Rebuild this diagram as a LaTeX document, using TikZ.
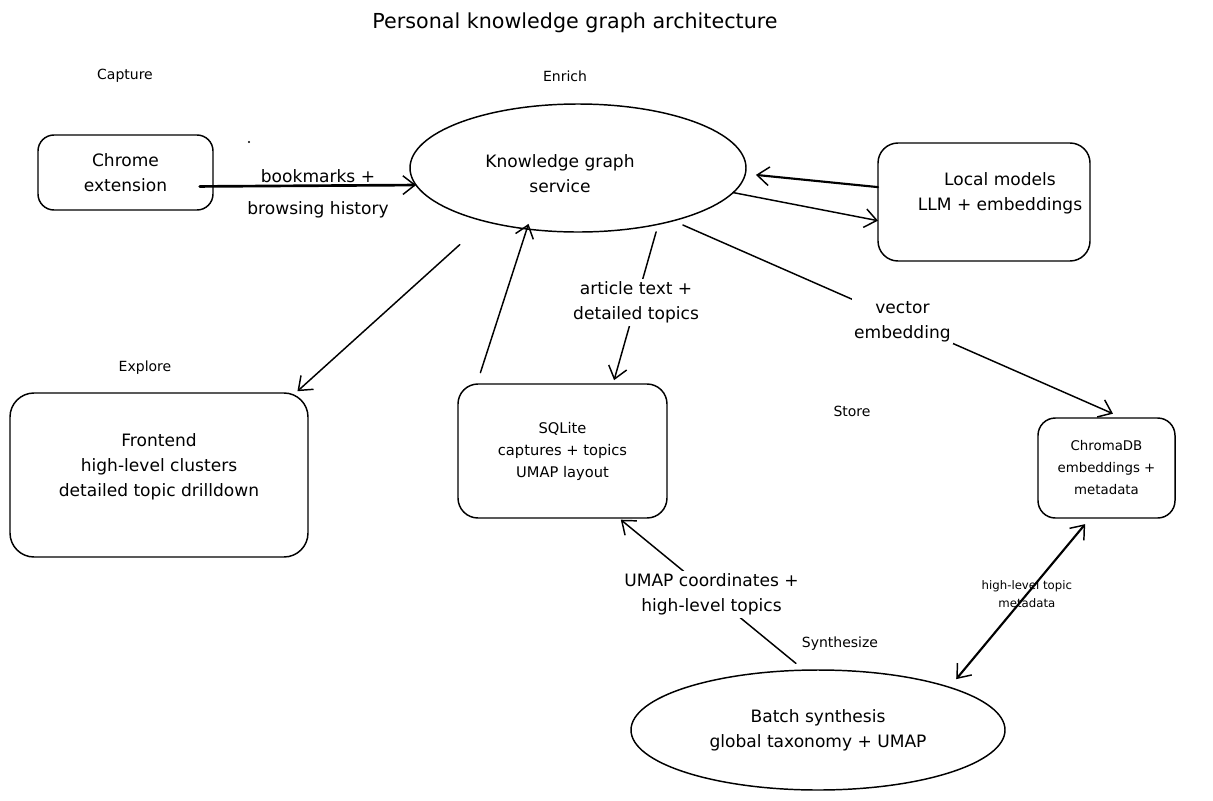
\documentclass[tikz,border=0pt]{standalone}
\usepackage{fontspec}
\setmainfont{DejaVu Sans}
\usetikzlibrary{arrows.meta,shapes.geometric}
\newcommand\maintxt{\fontsize{12.8}{18.75}\selectfont}
\newcommand\smalltxt{\fontsize{11}{16.5}\selectfont}
\newcommand\chromatxt{\fontsize{10}{16.5}\selectfont}
\newcommand\tinytxt{\fontsize{8.8}{14}\selectfont}
\newcommand\secttxt{\fontsize{10.5}{13}\selectfont}
\newcommand\titletxt{\fontsize{15.5}{19}\selectfont}
\tikzset{barb/.tip={Straight Barb[length=9pt,width=14pt,line width=1.1pt]}}
\begin{document}
\begin{tikzpicture}[x=0.75pt,y=-0.75pt,
  line width=1.1pt, line join=round, line cap=round,
  box/.style={draw, rounded corners=15pt, align=center, inner sep=0pt, outer sep=0pt, font=\maintxt},
  oval/.style={draw, ellipse, align=center, inner sep=0pt, outer sep=0pt, font=\maintxt},
  lbl/.style={align=center, font=\maintxt, inner sep=2pt},
  sect/.style={font=\secttxt},
  conn/.style={-barb},
  both/.style={barb-barb},
]
\useasboundingbox (0,0) rectangle (1213,800);

% title and section labels
\node[font=\titletxt] (title) at (575,23) {Personal knowledge graph architecture};
\node[sect] (capture) at (125,76) {Capture};
\node[sect] (enrich) at (565,76) {Enrich};
\node[sect] (explore) at (145,368) {Explore};
\node[sect] (store) at (852,411) {Store};
\node[sect] (synth) at (840,644) {Synthesize};
\fill (249,142) circle (0.9pt);

% nodes
\node[box, rounded corners=12pt, minimum width=131.25pt, minimum height=56.25pt] (chrome) at (125.5,172.5) {Chrome\\extension};
\node[oval, minimum width=252pt, minimum height=96pt] (kg) at (578,168) {};
\node[lbl] (kgtext) at (560,174) {Knowledge graph\\service};
\node[box, minimum width=159pt, minimum height=88.5pt] (local) at (984,202) {};
\node[lbl] (localtext) at (1000,193) {Local models\\LLM + embeddings};
\node[box, rounded corners=18pt, minimum width=223.5pt, minimum height=123pt] (front) at (159,475) {};
\node[lbl] (fronttext) at (159,467) {Frontend\\high-level clusters\\detailed topic drilldown};
\node[box, minimum width=156.75pt, minimum height=100.5pt, font=\smalltxt] (sqlite) at (562.5,451) {SQLite\\captures + topics\\UMAP layout};
\node[box, rounded corners=13pt, minimum width=102.75pt, minimum height=75pt, font=\chromatxt] (chroma) at (1106.5,468) {ChromaDB\\embeddings +\\metadata};
\node[oval, minimum width=280.5pt, minimum height=90pt] (batch) at (818,730) {Batch synthesis\\global taxonomy + UMAP};

% connectors
\draw[conn, line width=2pt, shorten <=-10pt] (chrome.-9) -- (kg.186);
\node[lbl] (lchrome) at (318,194) {bookmarks +\\[5pt]browsing history};
\draw[conn, line width=1.6pt, shorten >=8pt] (local.172) -- (kg.-2);
\draw[conn] (kg.-9) -- (local.190);
\draw[conn, shorten <=26pt, shorten >=2pt] (kg.210) -- (front.31);
\draw[conn, shorten <=9pt, shorten >=-4pt] (sqlite.142) -- (kg.230);
\draw[conn, shorten <=6pt, shorten >=3pt] (kg.-35) -- (sqlite.53)
  node[lbl, fill=white, pos=0.49] (ltext) {article text +\\detailed topics};
\draw[conn, shorten <=8pt, shorten >=8pt] (kg.-29) -- (chroma.72)
  node[lbl, fill=white, pos=0.51] (lvec) {vector\\embedding};
\draw[conn, shorten <=8pt, shorten >=2pt] (batch.103) -- (sqlite.-50)
  node[lbl, fill=white, pos=0.5] (lumap) {UMAP coordinates +\\high-level topics};
\draw[both, line width=1.6pt, shorten <=8pt, shorten >=6pt] (batch.18) -- (chroma.-108)
  node[lbl, font=\tinytxt, pos=0.55] (lmeta) {high-level topic\\metadata};
\end{tikzpicture}
\end{document}
